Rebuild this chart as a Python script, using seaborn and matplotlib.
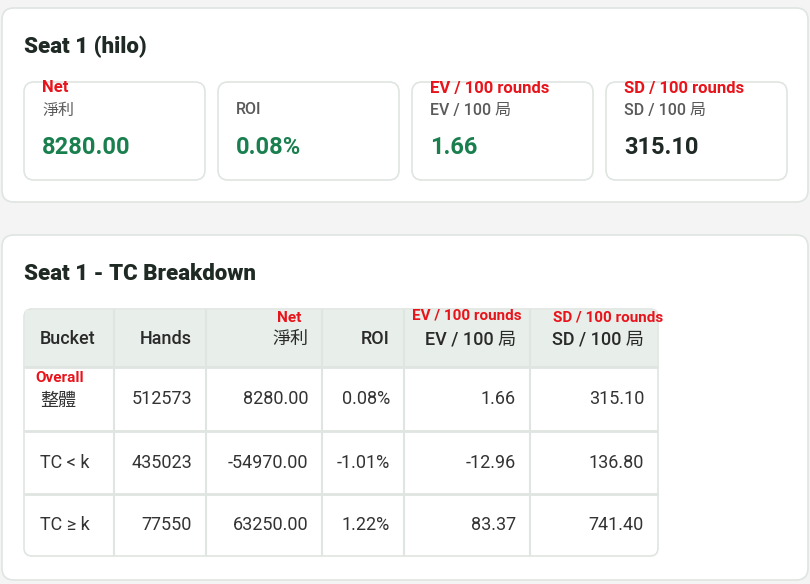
import matplotlib
matplotlib.use("Agg")
import matplotlib.pyplot as plt
import seaborn as sns
from matplotlib.patches import FancyBboxPatch, Rectangle

sns.set_theme(style="white")
FONT = ['Roboto', 'Noto Sans CJK TC', 'DejaVu Sans']
plt.rcParams['font.family'] = FONT

# ---- data ----
stat_labels = ["淨利", "ROI", "EV / 100 局", "SD / 100 局"]
stat_values = ["8280.00", "0.08%", "1.66", "315.10"]
stat_notes = ["Net", "", "EV / 100 rounds", "SD / 100 rounds"]
col_headers = ["Bucket", "Hands", "淨利", "ROI", "EV / 100 局", "SD / 100 局"]
header_notes = ["", "", "Net", "", "EV / 100 rounds", "SD / 100 rounds"]
buckets = ["整體", "TC < k", "TC ≥ k"]
bucket_notes = ["Overall", "", ""]
hands = ["512573", "435023", "77550"]
net = ["8280.00", "-54970.00", "63250.00"]
roi = ["0.08%", "-1.01%", "1.22%"]
ev100 = ["1.66", "-12.96", "83.37"]
sd100 = ["315.10", "136.80", "741.40"]

RED = "#e8141c"; GREEN = "#1a7f4e"; DARK = "#1f2a24"; GRAY = "#5a5a5a"; BORDER = "#dfe5e0"

fig = plt.figure(figsize=(8.1, 5.84), dpi=100)
fig.patch.set_facecolor("#f3f4f3")
ax = fig.add_axes([0, 0, 1, 1])
ax.set_xlim(0, 810); ax.set_ylim(584, 0); ax.axis("off")

def card(x0, y0, x1, y1, r=12, fc="white", ec=BORDER, lw=1.2):
    ax.add_patch(FancyBboxPatch((x0 + r, y0 + r), x1 - x0 - 2 * r, y1 - y0 - 2 * r,
                                boxstyle=f"round,pad={r}", fc=fc, ec=ec, lw=lw))

card(2, 8, 808, 202)
card(2, 235, 808, 580)
ax.text(24, 47, "Seat 1 (hilo)", fontsize=16, fontweight="heavy", color=DARK, va="center")
ax.text(24, 274, "Seat 1 - TC Breakdown", fontsize=16, fontweight="heavy", color=DARK, va="center")

xs = [24, 218, 412, 606]
for i, x in enumerate(xs):
    card(x, 82, x + 181, 180, r=10)
    ax.text(x + 18, 110, stat_labels[i], fontsize=11.5, fontweight="medium", color=GRAY, va="center")
    ax.text(x + 18, 147, stat_values[i], fontsize=17, fontweight="bold",
            color=GREEN if i < 3 else DARK, va="center")
    if stat_notes[i]:
        ax.text(x + 18, 88, stat_notes[i], fontsize=12, fontweight="bold", color=RED, va="center")

# table
cols = [24, 114, 206, 322, 404, 530, 658]
rows = [309, 367, 431, 494, 556]
card(24, 309, 658, 556, r=8, fc="white", ec=BORDER)
ax.add_patch(Rectangle((25, 310), 632, 57, fc="#e8eee9", ec="none"))
for c in cols[1:-1]:
    ax.plot([c, c], [310, 555], color=BORDER, lw=1.5)
for r in rows[1:-1]:
    ax.plot([25, 657], [r, r], color=BORDER, lw=2)

def cell(ci, y, s, **kw):
    if ci == 0:
        ax.text(cols[0] + 16, y, s, ha="left", va="center", **kw)
    else:
        ax.text(cols[ci + 1] - 14, y, s, ha="right", va="center", **kw)

hy = (rows[0] + rows[1]) / 2 + 1
for ci, h in enumerate(col_headers):
    cell(ci, hy, h, fontsize=13, fontweight="medium", color="#2a2a2a")
    if header_notes[ci]:
        if ci == 2:
            ax.text(289, 318, header_notes[ci], fontsize=11, fontweight="bold", color=RED, va="center", ha="center")
        elif ci == 4:
            ax.text(cols[ci] + 8, 316, header_notes[ci], fontsize=11, fontweight="bold", color=RED, va="center")
        else:
            ax.text(cols[ci] + 23, 318, header_notes[ci], fontsize=11, fontweight="bold", color=RED, va="center")

table_cols = [buckets, hands, net, roi, ev100, sd100]
for ri in range(3):
    y = (rows[ri + 1] + rows[ri + 2]) / 2
    for ci, col in enumerate(table_cols):
        cell(ci, y + (2 if ri == 0 and ci == 0 else 0), col[ri], fontsize=13, color="#333333")
    if bucket_notes[ri]:
        ax.text(35, 378, bucket_notes[ri], fontsize=11, fontweight="bold", color=RED, va="center")

fig.savefig("out.png", dpi=100, facecolor=fig.get_facecolor())
